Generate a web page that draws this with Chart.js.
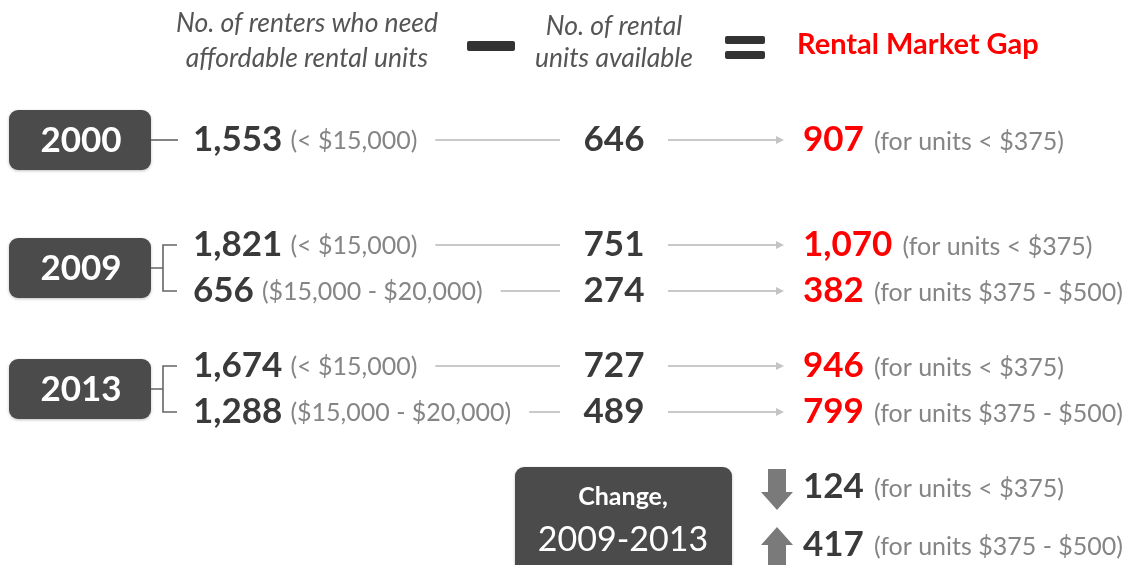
<!DOCTYPE html>
<html>
<head>
<meta charset="utf-8">
<script src="https://cdn.jsdelivr.net/npm/chart.js"></script>
<style>
  body { margin: 0; background: #ffffff; }
  #wrap { width: 1132px; height: 565px; }
</style>
</head>
<body>
<div id="wrap"><canvas id="myChart" width="1132" height="565"></canvas></div>
<script>
var rowYear = ['2000', '2009', '2009', '2013', '2013'];
var incomeBand = ['< $15,000', '< $15,000', '$15,000 - $20,000', '< $15,000', '$15,000 - $20,000'];
var renters = [1553, 1821, 656, 1674, 1288];
var unitsAvailable = [646, 751, 274, 727, 489];
var marketGap = [907, 1070, 382, 946, 799];
var gapUnits = ['< $375', '< $375', '$375 - $500', '< $375', '$375 - $500'];
var changeValues = [-124, 417];
var changeUnits = ['< $375', '$375 - $500'];
var years = ['2000', '2009', '2013'];

// layout (scale units == canvas px)
var colX = { renters: 193, units: 614, gap: 803 };
var rowY = [140, 245, 291, 366, 412];
var changeY = [487, 545];

var FONT = 'Lato, "Open Sans", sans-serif';
var DARK = '#3a3a3a', GREY = '#858585', RED = '#ff0000', LINE = '#c9c9c9';
var SMALL = '25px ' + FONT, BIG = 'bold 35px ' + FONT;

function fmt(v){ return Math.abs(v).toLocaleString('en-US'); }

function pts(col, ys){
    return ys.map(function(y){ return { x: colX[col], y: y }; });
}

function roundRect(ctx, x, y, w, h, r){
    ctx.beginPath();
    ctx.moveTo(x + r, y);
    ctx.arcTo(x + w, y, x + w, y + h, r);
    ctx.arcTo(x + w, y + h, x, y + h, r);
    ctx.arcTo(x, y + h, x, y, r);
    ctx.arcTo(x, y, x + w, y, r);
    ctx.closePath();
}

function darkBox(ctx, x, y, w, h){
    ctx.save();
    ctx.shadowColor = 'rgba(0,0,0,0.25)';
    ctx.shadowBlur = 3;
    ctx.shadowOffsetY = 1;
    roundRect(ctx, x, y, w, h, 9);
    ctx.fillStyle = '#4b4b4b';
    ctx.fill();
    ctx.restore();
}

var infoPlugin = {
    id: 'info',
    afterDatasetsDraw: function(chart){
        var ctx = chart.ctx;
        var sx = chart.scales.x, sy = chart.scales.y;
        var mR = chart.getDatasetMeta(0).data;
        var mU = chart.getDatasetMeta(1).data;
        var mG = chart.getDatasetMeta(2).data;
        var mC = chart.getDatasetMeta(3).data;
        ctx.save();
        ctx.textBaseline = 'middle';

        // header
        ctx.fillStyle = '#555555';
        ctx.font = 'italic 26.5px ' + FONT;
        ctx.textAlign = 'center';
        ctx.fillText('No. of renters who need', sx.getPixelForValue(307), sy.getPixelForValue(23));
        ctx.fillText('affordable rental units', sx.getPixelForValue(307), sy.getPixelForValue(58));
        ctx.fillText('No. of rental', sx.getPixelForValue(614), sy.getPixelForValue(26));
        ctx.fillText('units available', sx.getPixelForValue(614), sy.getPixelForValue(58));
        ctx.fillStyle = '#333333';
        roundRect(ctx, 467, 41, 48, 10, 2); ctx.fill();
        roundRect(ctx, 725, 36, 40, 8, 2); ctx.fill();
        roundRect(ctx, 725, 51, 40, 8, 2); ctx.fill();
        ctx.textAlign = 'left';
        ctx.fillStyle = RED;
        ctx.font = 'bold 29px ' + FONT;
        ctx.fillText('Rental Market Gap', 797, 45);

        // year boxes and brackets
        years.forEach(function(yr){
            var idx = [];
            rowYear.forEach(function(r, i){ if (r === yr) idx.push(i); });
            var ys = idx.map(function(i){ return mR[i].y; });
            var cy = (ys[0] + ys[ys.length - 1]) / 2;
            darkBox(ctx, 9, cy - 30, 142, 60);
            ctx.fillStyle = '#ffffff';
            ctx.font = 'bold 35px ' + FONT;
            ctx.textAlign = 'center';
            ctx.fillText(yr, 81, cy + 1);
            ctx.strokeStyle = '#666666';
            ctx.lineWidth = 1.6;
            ctx.beginPath();
            if (ys.length === 1) {
                ctx.moveTo(151, cy); ctx.lineTo(178, cy);
            } else {
                ctx.moveTo(151, cy); ctx.lineTo(163, cy);
                ctx.moveTo(177, ys[0]); ctx.lineTo(163, ys[0]);
                ctx.lineTo(163, ys[ys.length - 1]); ctx.lineTo(177, ys[ys.length - 1]);
            }
            ctx.stroke();
        });

        // rows
        renters.forEach(function(v, i){
            var p = mR[i], y = p.y;
            ctx.textAlign = 'left';
            ctx.fillStyle = DARK;
            ctx.font = BIG;
            var s = fmt(v);
            ctx.fillText(s, p.x, y);
            var x = p.x + ctx.measureText(s).width + 8;
            ctx.fillStyle = GREY;
            ctx.font = SMALL;
            var lab = '(' + incomeBand[i] + ')';
            ctx.fillText(lab, x, y + 1);
            x += ctx.measureText(lab).width;

            // line to units
            ctx.strokeStyle = LINE;
            ctx.lineWidth = 2;
            ctx.beginPath();
            ctx.moveTo(x + 18, y); ctx.lineTo(mU[i].x - 54, y);
            ctx.stroke();

            ctx.fillStyle = DARK;
            ctx.font = BIG;
            ctx.textAlign = 'center';
            ctx.fillText(fmt(unitsAvailable[i]), mU[i].x, y);

            // arrow to gap
            var ax0 = mU[i].x + 54, ax1 = mG[i].x - 22;
            ctx.beginPath();
            ctx.moveTo(ax0, y); ctx.lineTo(ax1, y);
            ctx.stroke();
            ctx.fillStyle = '#c4c4c4';
            ctx.beginPath();
            ctx.moveTo(ax1 + 3, y); ctx.lineTo(ax1 - 5, y - 4); ctx.lineTo(ax1 - 5, y + 4);
            ctx.closePath(); ctx.fill();

            ctx.textAlign = 'left';
            ctx.fillStyle = RED;
            ctx.font = 'bold 35px ' + FONT;
            var g = fmt(marketGap[i]);
            ctx.fillText(g, mG[i].x, y);
            var gx = mG[i].x + ctx.measureText(g).width + 10;
            ctx.fillStyle = GREY;
            ctx.font = SMALL;
            ctx.fillText('(for units ' + gapUnits[i] + ')', gx, y + 2);
        });

        // change box
        darkBox(ctx, 515, 467, 217, 120);
        ctx.fillStyle = '#ffffff';
        ctx.textAlign = 'center';
        ctx.font = 'bold 25px ' + FONT;
        ctx.fillText('Change,', 623, 497);
        ctx.font = '34px ' + FONT;
        ctx.fillText('2009-2013', 623, 540);

        changeValues.forEach(function(v, i){
            var p = mC[i], y = p.y;
            // block arrow
            var ax = p.x - 26;
            ctx.fillStyle = '#7a7a7a';
            ctx.beginPath();
            if (v < 0) {
                ctx.moveTo(ax - 9, y - 18); ctx.lineTo(ax + 9, y - 18); ctx.lineTo(ax + 9, y + 5);
                ctx.lineTo(ax + 16, y + 5); ctx.lineTo(ax, y + 23); ctx.lineTo(ax - 16, y + 5);
                ctx.lineTo(ax - 9, y + 5);
            } else {
                ctx.moveTo(ax - 9, y + 22); ctx.lineTo(ax + 9, y + 22); ctx.lineTo(ax + 9, y);
                ctx.lineTo(ax + 16, y); ctx.lineTo(ax, y - 18); ctx.lineTo(ax - 16, y);
                ctx.lineTo(ax - 9, y);
            }
            ctx.closePath(); ctx.fill();

            ctx.textAlign = 'left';
            ctx.fillStyle = DARK;
            ctx.font = BIG;
            var s = fmt(v);
            ctx.fillText(s, p.x, y);
            var x = p.x + ctx.measureText(s).width + 10;
            ctx.fillStyle = GREY;
            ctx.font = SMALL;
            ctx.fillText('(for units ' + changeUnits[i] + ')', x, y + 2);
        });
        ctx.restore();
    }
};

var ctx = document.getElementById('myChart').getContext('2d');
var myChart = new Chart(ctx, {
    type: 'scatter',
    data: {
        datasets: [
            { label: 'Renters needing units', data: pts('renters', rowY), pointRadius: 0 },
            { label: 'Units available', data: pts('units', rowY), pointRadius: 0 },
            { label: 'Rental market gap', data: pts('gap', rowY), pointRadius: 0 },
            { label: 'Change 2009-2013', data: pts('gap', changeY), pointRadius: 0 }
        ]
    },
    options: {
        responsive: false,
        animation: false,
        devicePixelRatio: 1,
        layout: { padding: 0 },
        plugins: { legend: { display: false }, tooltip: { enabled: false } },
        scales: {
            x: { type: 'linear', min: 0, max: 1132, display: false },
            y: { type: 'linear', min: 0, max: 565, reverse: true, display: false }
        }
    },
    plugins: [infoPlugin]
});
</script>
</body>
</html>
